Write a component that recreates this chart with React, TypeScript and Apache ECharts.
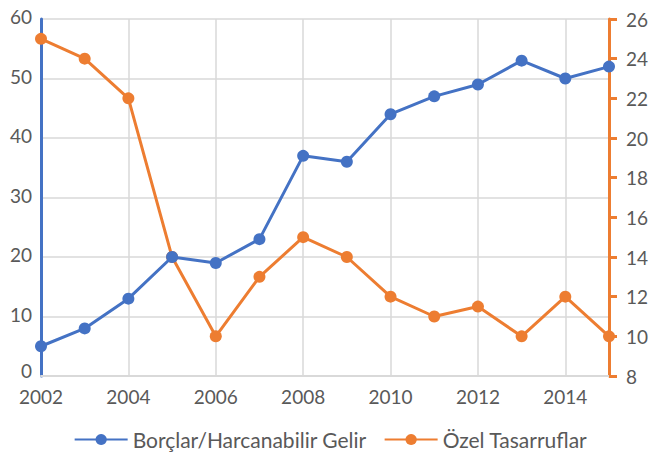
import React, { useEffect, useRef } from "react";
import * as echarts from "echarts";

const years = [2002, 2003, 2004, 2005, 2006, 2007, 2008, 2009, 2010, 2011, 2012, 2013, 2014, 2015];
const borclar = [5, 8, 13, 20, 19, 23, 37, 36, 44, 47, 49, 53, 50, 52];
const tasarruf = [25, 24, 22, 14, 10, 13, 15, 14, 12, 11, 11.5, 10, 12, 10];
const seriesNames = ["Borçlar/Harcanabilir Gelir", "Özel Tasarruflar"];

const BLUE = "#4472C4";
const ORANGE = "#ED7D31";
const TEXT = "#595959";
const GRID = "#D9D9D9";
const FONT = "Lato";
const TICK_FS = 19;

export default function App() {
  const ref = useRef<HTMLDivElement>(null);
  useEffect(() => {
    const chart = echarts.init(ref.current!, null, { renderer: "svg" });
    chart.setOption({
      animation: false,
      textStyle: { fontFamily: FONT },
      grid: { left: 41, right: 52, top: 19, bottom: 84 },
      legend: {
        bottom: 5,
        left: "center",
        itemWidth: 53,
        itemHeight: 14,
        itemGap: 17,
        textStyle: { color: TEXT, fontSize: 21, fontFamily: FONT },
        data: seriesNames,
      },
      xAxis: {
        type: "value",
        min: 2002,
        max: 2015,
        interval: 2,
        axisLine: { show: true, lineStyle: { color: GRID, width: 2 } },
        axisTick: { show: false },
        splitLine: { show: true, lineStyle: { color: GRID, width: 1.5 } },
        axisLabel: {
          color: TEXT,
          fontSize: TICK_FS,
          lineHeight: 15,
          fontFamily: FONT,
          margin: 13,
          showMaxLabel: false,
          formatter: (v: number) => (v % 2 === 0 ? String(v) : ""),
        },
      },
      yAxis: [
        {
          type: "value",
          min: 0,
          max: 60,
          interval: 10,
          position: "left",
          axisLine: { show: true, lineStyle: { color: BLUE, width: 3 } },
          axisTick: { show: false },
          splitLine: { show: true, lineStyle: { color: GRID, width: 1.5 } },
          axisLabel: {
            color: TEXT,
            fontSize: TICK_FS,
            lineHeight: 15,
            fontFamily: FONT,
            margin: 9,
            padding: [0, 0, 5, 0],
            formatter: (v: number) => (v === 0 ? "{z|0}" : String(v)),
            rich: {
              z: { color: TEXT, fontSize: TICK_FS, fontFamily: FONT, lineHeight: 15, padding: [0, 0, 6, 0] },
            },
          },
        },
        {
          type: "value",
          min: 8,
          max: 26,
          interval: 2,
          position: "right",
          axisLine: { show: true, lineStyle: { color: ORANGE, width: 3 } },
          axisTick: { show: true, length: 8, lineStyle: { color: ORANGE, width: 3 } },
          splitLine: { show: false },
          axisLabel: {
            color: TEXT,
            fontSize: TICK_FS,
            lineHeight: 15,
            fontFamily: FONT,
            margin: 17,
            padding: [0, 0, 4, 0],
          },
        },
      ],
      series: [
        {
          name: seriesNames[0],
          type: "line",
          yAxisIndex: 0,
          data: years.map((y, i) => [y, borclar[i]]),
          symbol: "circle",
          symbolSize: 12,
          lineStyle: { color: BLUE, width: 3 },
          itemStyle: { color: BLUE },
          z: 3,
        },
        {
          name: seriesNames[1],
          type: "line",
          yAxisIndex: 1,
          data: years.map((y, i) => [y, tasarruf[i]]),
          symbol: "circle",
          symbolSize: 12,
          lineStyle: { color: ORANGE, width: 3 },
          itemStyle: { color: ORANGE },
          z: 2,
        },
      ],
    });
    return () => chart.dispose();
  }, []);
  return (
    <div
      ref={ref}
      style={{ position: "fixed", left: 0, top: 0, width: 661, height: 460, background: "#fff" }}
    />
  );
}
